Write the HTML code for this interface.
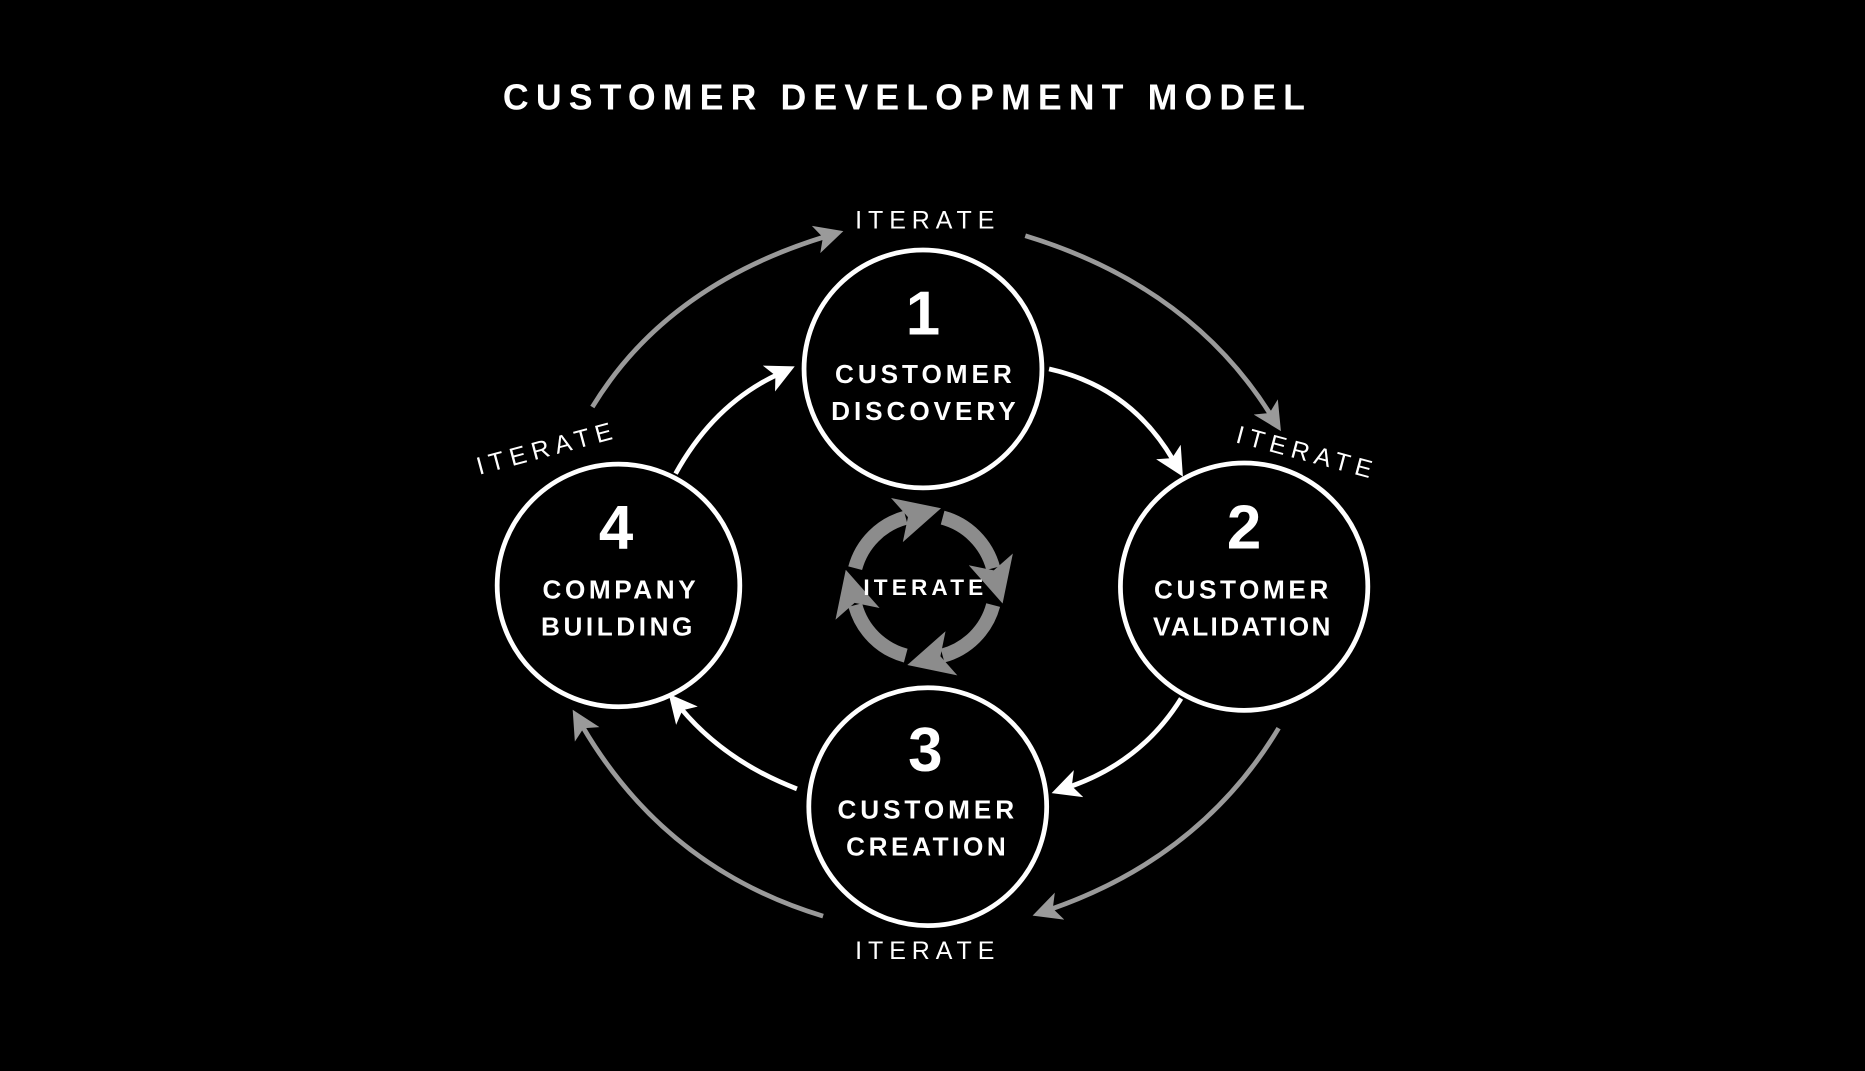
<!DOCTYPE html>
<html><head><style>
html,body{margin:0;padding:0;background:#000;}
svg{display:block;}
text{font-family:"Liberation Sans",sans-serif;fill:#fff;}
</style></head><body>
<svg width="1865" height="1071" viewBox="0 0 1568 900" xmlns="http://www.w3.org/2000/svg">
<defs>
<marker id="hw" viewBox="0 0 10 10" refX="3" refY="5" markerWidth="6" markerHeight="6" orient="auto"><path d="M0,0 L10,5 L0,10 L2.5,5 z" fill="#fff"/></marker>
<marker id="hg" viewBox="0 0 10 10" refX="3" refY="5" markerWidth="6" markerHeight="6" orient="auto"><path d="M0,0 L10,5 L0,10 L2.5,5 z" fill="#9a9a9a"/></marker>
<marker id="hc" viewBox="0 0 10 10" refX="2" refY="5" markerWidth="3.2" markerHeight="3.8" orient="auto"><path d="M0,0 L10,5 L0,10 L2.5,5 z" fill="#8c8c8c"/></marker>
</defs>
<rect width="1568" height="900" fill="#000"/>
<text x="763" y="92" font-size="30" font-weight="bold" text-anchor="middle" letter-spacing="6">CUSTOMER DEVELOPMENT MODEL</text>

<g fill="none" stroke="#9a9a9a" stroke-width="4">
<path d="M498,342 Q560,240 693,199" marker-end="url(#hg)"/>
<path d="M862,198 Q1000,240 1068,348" marker-end="url(#hg)"/>
<path d="M1075,612 Q1010,720 884,764" marker-end="url(#hg)"/>
<path d="M692,770 Q560,730 490,611" marker-end="url(#hg)"/>
</g>
<g fill="none" stroke="#fff" stroke-width="4">
<path d="M882,310 Q950,325 986,386" marker-end="url(#hw)"/>
<path d="M993,587 Q960,640 900,661" marker-end="url(#hw)"/>
<path d="M670,663 Q610,640 573,596" marker-end="url(#hw)"/>
<path d="M568,398 Q600,340 653,315" marker-end="url(#hw)"/>
</g>

<g fill="#000" stroke="#fff" stroke-width="4">
<circle cx="776" cy="310" r="100"/>
<circle cx="1046" cy="493" r="104"/>
<circle cx="780" cy="678" r="100"/>
<circle cx="520" cy="492" r="102"/>
</g>
<g font-weight="bold" text-anchor="middle">
<text x="776" y="281" font-size="52">1</text>
<text x="778" y="322" font-size="22" letter-spacing="3.3">CUSTOMER</text>
<text x="778" y="353" font-size="22" letter-spacing="3.3">DISCOVERY</text>
<text x="1046" y="461" font-size="52">2</text>
<text x="1045" y="503" font-size="22" letter-spacing="3">CUSTOMER</text>
<text x="1045" y="534" font-size="22" letter-spacing="2">VALIDATION</text>
<text x="778" y="648" font-size="52">3</text>
<text x="780" y="688" font-size="22" letter-spacing="3.3">CUSTOMER</text>
<text x="780" y="719" font-size="22" letter-spacing="3">CREATION</text>
<text x="518" y="461" font-size="52">4</text>
<text x="522" y="503" font-size="22" letter-spacing="3">COMPANY</text>
<text x="520" y="534" font-size="22" letter-spacing="3">BUILDING</text>
</g>

<g font-size="21" text-anchor="middle" letter-spacing="5">
<text x="780" y="192">ITERATE</text>
<text x="780" y="806">ITERATE</text>
<text x="1099" y="387" transform="rotate(15 1097 380)">ITERATE</text>
<text x="460" y="384" transform="rotate(-15 458 377)">ITERATE</text>
</g>

<g fill="none" stroke="#8c8c8c" stroke-width="12">
<path d="M719,477.5 A60,60 0 0 1 761.5,435" marker-end="url(#hc)"/>
<path d="M792.5,435 A60,60 0 0 1 835,477.5" marker-end="url(#hc)"/>
<path d="M835,508.5 A60,60 0 0 1 792.5,551" marker-end="url(#hc)"/>
<path d="M761.5,551 A60,60 0 0 1 719,508.5" marker-end="url(#hc)"/>
</g>
<text x="778" y="500" font-size="19" font-weight="bold" text-anchor="middle" letter-spacing="3.5">ITERATE</text>
</svg>
</body></html>
